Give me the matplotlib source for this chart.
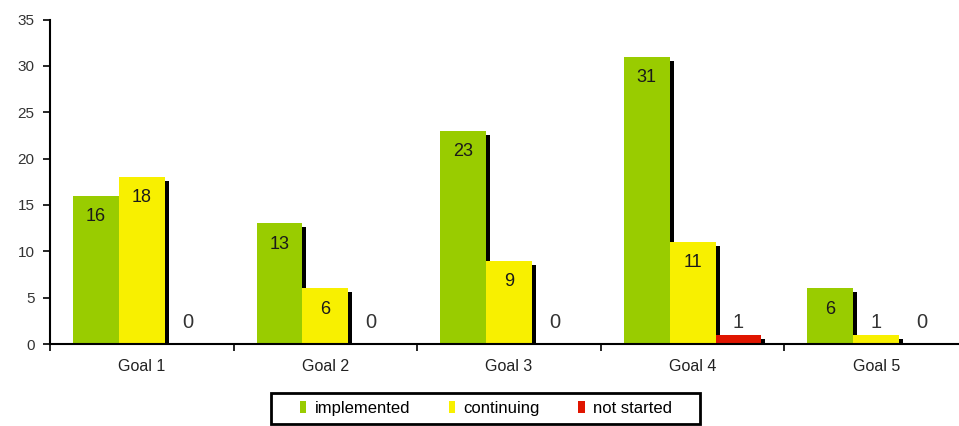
import matplotlib.pyplot as plt
from matplotlib.patches import Patch, Rectangle
import numpy as np

plt.rcParams['font.family'] = ['Liberation Sans', 'DejaVu Sans']

goals = ['Goal 1', 'Goal 2', 'Goal 3', 'Goal 4', 'Goal 5']
implemented = [16, 13, 23, 31, 6]
continuing = [18, 6, 9, 11, 1]
not_started = [0, 0, 0, 1, 0]

series = [
    ('implemented', implemented, '#99cc00'),
    ('continuing', continuing, '#f8f000'),
    ('not started', not_started, '#e01500'),
]

W, H = 959, 426
fig = plt.figure(figsize=(W / 100, H / 100), dpi=100)
ax = fig.add_axes([50 / W, 82 / H, 918 / W, 324.5 / H])

x = np.arange(len(goals))
width = 0.25
offsets = [0.125, 0.375, 0.625]

# drop shadows first, so every bar sits on top of them
dx, dy = 0.022, 0.43
for (name, vals, color), off in zip(series, offsets):
    for xi, v in zip(x, vals):
        if v > 0:
            ax.bar(xi + off + dx, v - dy, width, align='edge', color='black',
                   zorder=1)

for (name, vals, color), off in zip(series, offsets):
    ax.bar(x + off, vals, width, align='edge', color=color, zorder=2)
    for xi, v in zip(x, vals):
        cx = xi + off + width / 2
        if v >= 4:
            ax.annotate(str(v), (cx, v), xytext=(0, -15), textcoords='offset points',
                        ha='center', va='center', fontsize=13, color='#1a1a1a')
        else:
            ax.annotate(str(v), (cx, 0), xytext=(0, 15.5), textcoords='offset points',
                        ha='center', va='center', fontsize=14.5, color='#333333')

ax.set_xlim(0, 5)
ax.set_ylim(0, 35)
ax.set_yticks(range(0, 36, 5))
ax.set_xticks(range(0, 6))
ax.set_xticklabels([])
ax.set_xticks(x + 0.5, minor=True)
ax.set_xticklabels(goals, minor=True)
ax.tick_params(axis='x', which='minor', length=0, pad=11, labelsize=11.5, colors='#222222')
ax.tick_params(axis='x', which='major', length=5, width=1.2, direction='out')
ax.tick_params(axis='y', length=5, width=1.2, pad=6, labelsize=11, labelcolor='#333333')

for side in ['top', 'right']:
    ax.spines[side].set_visible(False)
for side in ['left', 'bottom']:
    ax.spines[side].set_linewidth(1.5)

# legend entries without a frame, boxed by a plain rectangle
handles = [Patch(facecolor=c, edgecolor='none', label=n) for n, _, c in series]
fig.legend(handles=handles, loc='center', bbox_to_anchor=(486 / W, 1 - 408.5 / H),
           ncol=3, frameon=False, fontsize=12, handlelength=0.4, handleheight=0.7,
           handletextpad=0.5, columnspacing=2.3, borderpad=0, borderaxespad=0)
fig.patches.append(Rectangle((271 / W, 1 - 424 / H), 429 / W, 31 / H,
                             transform=fig.transFigure, fill=False,
                             edgecolor='black', linewidth=2))

fig.savefig('out.png', dpi=100)
